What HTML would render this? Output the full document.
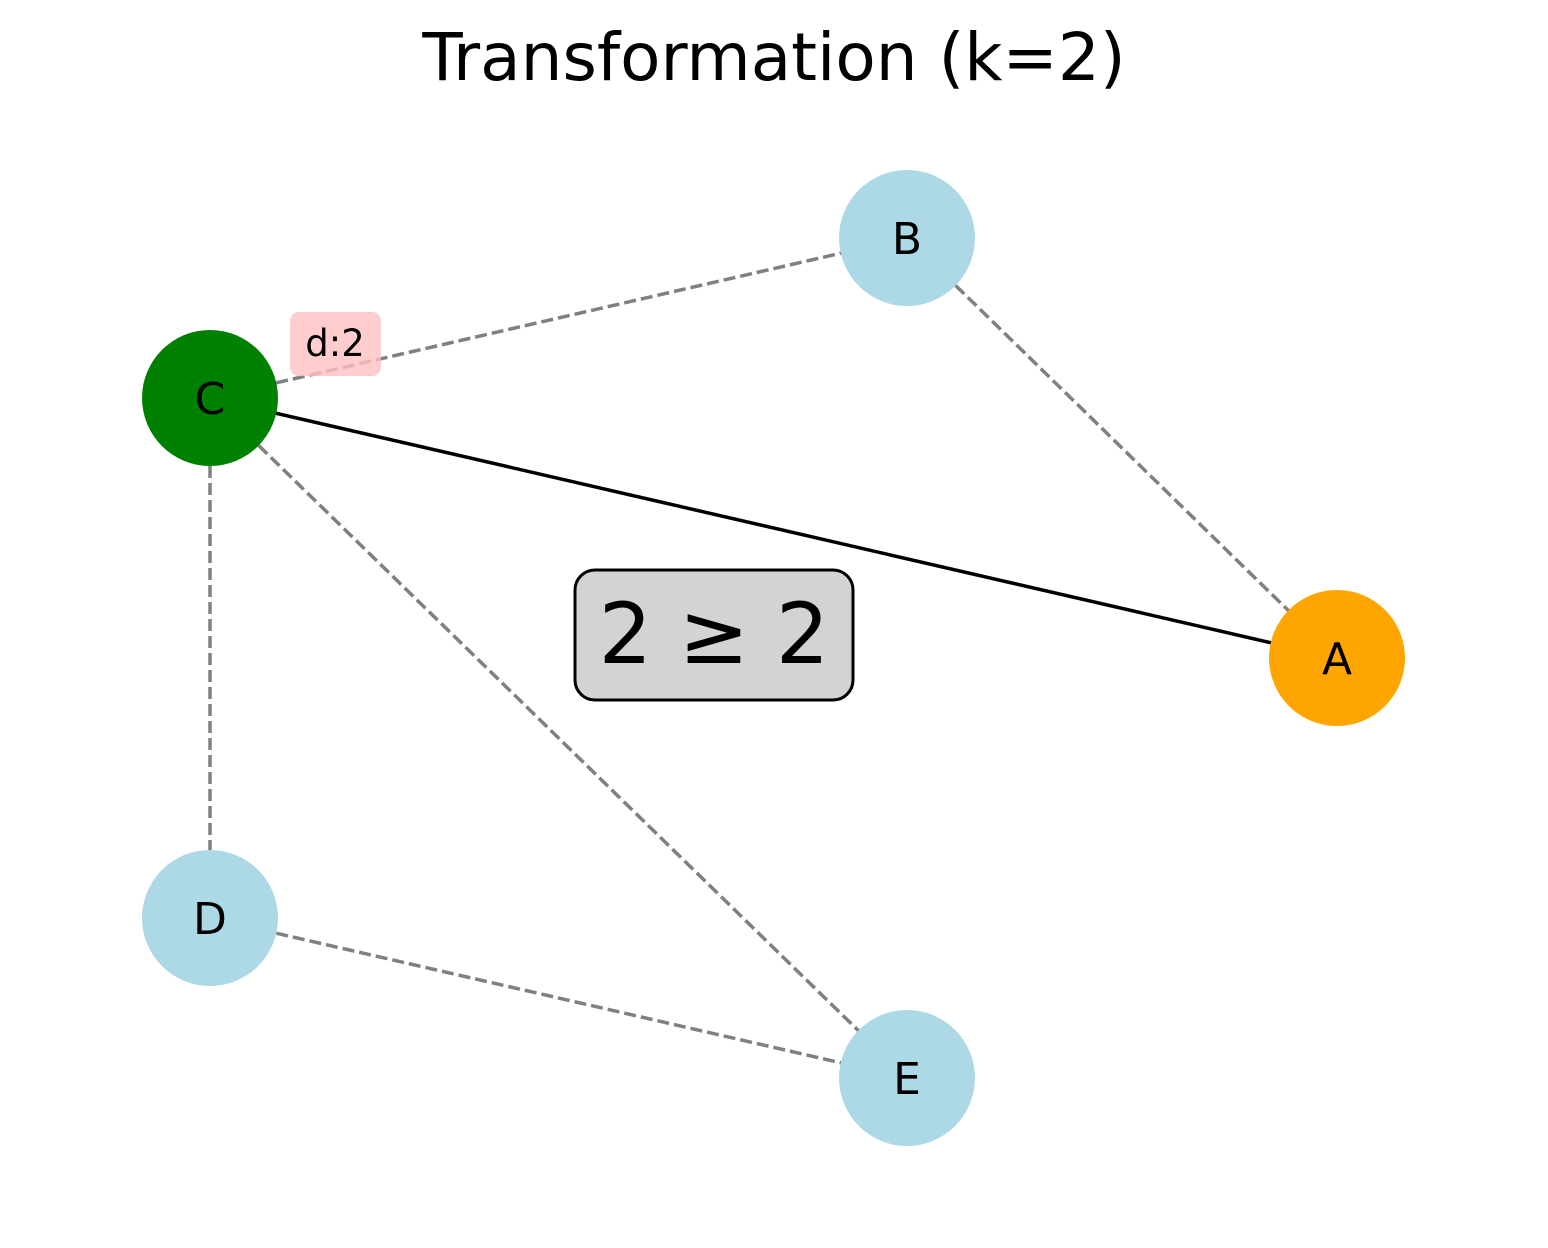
<!DOCTYPE html>
<html><head><meta charset="utf-8"><style>html,body{margin:0;padding:0;background:#fff}</style></head>
<body>
<svg width="1548" height="1243" viewBox="0 0 1548 1243" xmlns="http://www.w3.org/2000/svg" font-family="DejaVu Sans, Liberation Sans, sans-serif">
<rect width="1548" height="1243" fill="#fff"/>
<text x="774" y="80" font-size="66" text-anchor="middle" fill="#000">Transformation (k=2)</text>
<g stroke="#808080" stroke-width="3.5" stroke-dasharray="12,5" fill="none">
<line x1="210" y1="398" x2="907" y2="238"/>
<line x1="907" y1="238" x2="1337" y2="658"/>
<line x1="210" y1="398" x2="210" y2="918"/>
<line x1="210" y1="398" x2="907" y2="1078"/>
<line x1="210" y1="918" x2="907" y2="1078"/>
</g>
<line x1="210" y1="398" x2="1337" y2="658" stroke="#000" stroke-width="3.5"/>
<circle cx="907" cy="238" r="68" fill="#add8e6"/>
<circle cx="210" cy="398" r="68" fill="#008000"/>
<circle cx="1337" cy="658" r="68" fill="#ffa500"/>
<circle cx="210" cy="918" r="68" fill="#add8e6"/>
<circle cx="907" cy="1078" r="68" fill="#add8e6"/>
<g font-size="44" text-anchor="middle" fill="#000">
<text x="907" y="254">B</text>
<text x="210" y="414">C</text>
<text x="1337" y="674">A</text>
<text x="210" y="934">D</text>
<text x="907" y="1094">E</text>
</g>
<rect x="290" y="312" width="91" height="64" rx="9" fill="#ffc0c0" fill-opacity="0.8"/>
<text x="335" y="356" font-size="37" text-anchor="middle" fill="#000">d:2</text>
<rect x="575" y="570" width="278" height="130" rx="20" fill="#d3d3d3" stroke="#000" stroke-width="3"/>
<text x="714" y="663" font-size="84" text-anchor="middle" fill="#000">2 ≥ 2</text>
</svg>
</body></html>
